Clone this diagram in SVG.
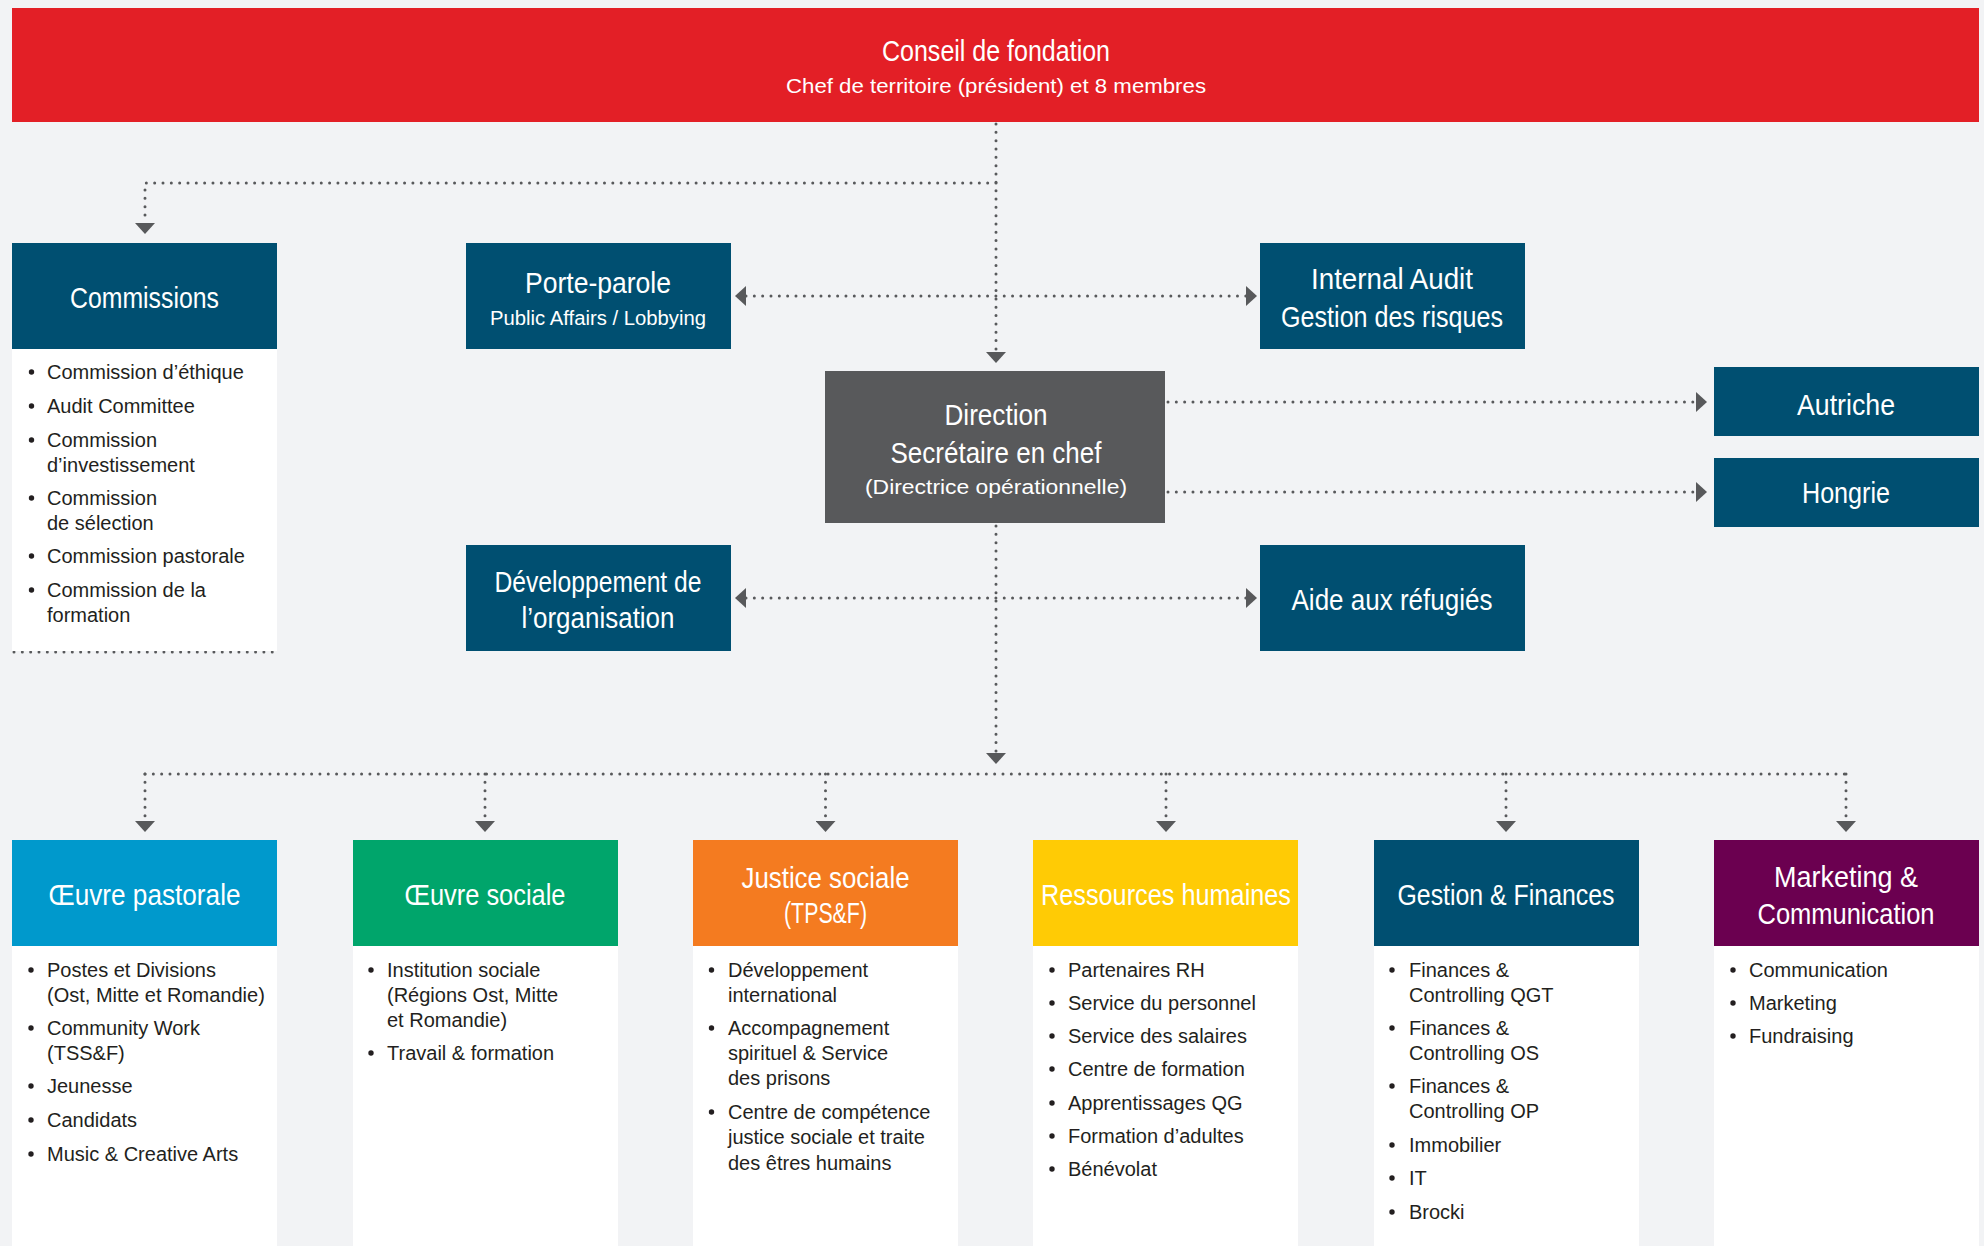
<svg xmlns="http://www.w3.org/2000/svg" width="1984" height="1246" viewBox="0 0 1984 1246">
<style>
.bg{fill:#f2f3f5}
.navy{fill:#004f71}
.list{fill:#ffffff}
.h{font-family:"Liberation Sans",Arial,sans-serif;fill:#ffffff;text-anchor:middle;font-size:30px}
.s{font-family:"Liberation Sans",Arial,sans-serif;fill:#ffffff;text-anchor:middle;font-size:20px}
.b{font-family:"Liberation Sans",Arial,sans-serif;fill:#231f20;font-size:20px}
.dot{fill:#231f20}
.c{fill:none;stroke:#58595b;stroke-width:3;stroke-linecap:round;stroke-dasharray:0 8.33}
.ca{marker-end:url(#arr)}
.cb{marker-start:url(#arr);marker-end:url(#arr)}
</style>
<defs>
<marker id="arr" viewBox="0 -10 11 20" refX="0" refY="0" markerWidth="11" markerHeight="20" markerUnits="userSpaceOnUse" orient="auto-start-reverse">
<path d="M0,-10 L11,0 L0,10 Z" fill="#58595b"/>
</marker>
</defs>
<rect class="bg" x="0" y="0" width="1984" height="1246"/>

<g id="connectors">
<path class="c ca" d="M996,124 V352"/>
<path class="c ca" d="M996,183 H145 V223"/>
<path class="c cb" d="M746,296 H1246"/>
<path class="c cb" d="M746,598 H1246"/>
<path class="c ca" d="M1168,402 H1696"/>
<path class="c ca" d="M1168,492 H1696"/>
<path class="c ca" d="M996,526 V753"/>
<path class="c" d="M145,774 H1846"/>
<path class="c ca" d="M145,774 V821"/>
<path class="c ca" d="M485,774 V821"/>
<path class="c ca" d="M825.5,774 V821"/>
<path class="c ca" d="M1166,774 V821"/>
<path class="c ca" d="M1506,774 V821"/>
<path class="c ca" d="M1846,774 V821"/>
<path class="c" d="M14,652 H279"/>
</g>

<g id="conseil">
<rect x="12" y="8" width="1967" height="114" fill="#e31f26"/>
<text class="h" x="996" y="61" font-size="33" textLength="228" lengthAdjust="spacingAndGlyphs">Conseil de fondation</text>
<text class="s" x="996" y="93" font-size="21" textLength="420" lengthAdjust="spacingAndGlyphs">Chef de territoire (président) et 8 membres</text>
</g>

<g id="commissions">
<rect class="navy" x="12" y="243" width="265" height="106"/>
<text class="h" x="144.5" y="308" textLength="149" lengthAdjust="spacingAndGlyphs">Commissions</text>
<rect class="list" x="12" y="349" width="265" height="302"/>
<circle class="dot" cx="31.5" cy="372" r="2.7"/><text class="b" x="47" y="379">Commission d’éthique</text>
<circle class="dot" cx="31.5" cy="406" r="2.7"/><text class="b" x="47" y="413">Audit Committee</text>
<circle class="dot" cx="31.5" cy="440" r="2.7"/><text class="b" x="47" y="447">Commission</text>
<text class="b" x="47" y="472">d’investissement</text>
<circle class="dot" cx="31.5" cy="498" r="2.7"/><text class="b" x="47" y="505">Commission</text>
<text class="b" x="47" y="530">de sélection</text>
<circle class="dot" cx="31.5" cy="556" r="2.7"/><text class="b" x="47" y="563">Commission pastorale</text>
<circle class="dot" cx="31.5" cy="590" r="2.7"/><text class="b" x="47" y="597">Commission de la</text>
<text class="b" x="47" y="622">formation</text>
</g>

<g id="porte-parole">
<rect class="navy" x="466" y="243" width="265" height="106"/>
<text class="h" x="598" y="293" font-size="31" textLength="146" lengthAdjust="spacingAndGlyphs">Porte-parole</text>
<text class="s" x="598" y="325" textLength="216" lengthAdjust="spacingAndGlyphs">Public Affairs / Lobbying</text>
</g>

<g id="internal-audit">
<rect class="navy" x="1260" y="243" width="265" height="106"/>
<text class="h" x="1392" y="289" textLength="162" lengthAdjust="spacingAndGlyphs">Internal Audit</text>
<text class="h" x="1392" y="327" textLength="222" lengthAdjust="spacingAndGlyphs">Gestion des risques</text>
</g>

<g id="direction">
<rect x="825" y="371" width="340" height="152" fill="#58595b"/>
<text class="h" x="996" y="425" textLength="103" lengthAdjust="spacingAndGlyphs">Direction</text>
<text class="h" x="996" y="463" textLength="211" lengthAdjust="spacingAndGlyphs">Secrétaire en chef</text>
<text class="s" x="996" y="494" font-size="21" textLength="262" lengthAdjust="spacingAndGlyphs">(Directrice opérationnelle)</text>
</g>

<g id="autriche">
<rect class="navy" x="1714" y="367" width="265" height="69"/>
<text class="h" x="1846" y="415" textLength="98" lengthAdjust="spacingAndGlyphs">Autriche</text>
</g>

<g id="hongrie">
<rect class="navy" x="1714" y="458" width="265" height="69"/>
<text class="h" x="1846" y="503" textLength="88" lengthAdjust="spacingAndGlyphs">Hongrie</text>
</g>

<g id="developpement">
<rect class="navy" x="466" y="545" width="265" height="106"/>
<text class="h" x="598" y="592" font-size="31" textLength="207" lengthAdjust="spacingAndGlyphs">Développement de</text>
<text class="h" x="598" y="628" font-size="31" textLength="153" lengthAdjust="spacingAndGlyphs">l’organisation</text>
</g>

<g id="aide-refugies">
<rect class="navy" x="1260" y="545" width="265" height="106"/>
<text class="h" x="1392" y="610" textLength="201" lengthAdjust="spacingAndGlyphs">Aide aux réfugiés</text>
</g>

<g id="oeuvre-pastorale">
<rect x="12" y="840" width="265" height="106" fill="#0099cc"/>
<text class="h" x="144.5" y="905" textLength="192" lengthAdjust="spacingAndGlyphs">Œuvre pastorale</text>
<rect class="list" x="12" y="946" width="265" height="300"/>
<circle class="dot" cx="31" cy="970" r="2.7"/><text class="b" x="47" y="977">Postes et Divisions</text>
<text class="b" x="47" y="1002">(Ost, Mitte et Romandie)</text>
<circle class="dot" cx="31" cy="1028" r="2.7"/><text class="b" x="47" y="1035">Community Work</text>
<text class="b" x="47" y="1060">(TSS&amp;F)</text>
<circle class="dot" cx="31" cy="1086" r="2.7"/><text class="b" x="47" y="1093">Jeunesse</text>
<circle class="dot" cx="31" cy="1120" r="2.7"/><text class="b" x="47" y="1127">Candidats</text>
<circle class="dot" cx="31" cy="1154" r="2.7"/><text class="b" x="47" y="1161">Music &amp; Creative Arts</text>
</g>

<g id="oeuvre-sociale">
<rect x="353" y="840" width="265" height="106" fill="#00a56b"/>
<text class="h" x="485" y="905" textLength="161" lengthAdjust="spacingAndGlyphs">Œuvre sociale</text>
<rect class="list" x="353" y="946" width="265" height="300"/>
<circle class="dot" cx="371" cy="970" r="2.7"/><text class="b" x="387" y="977">Institution sociale</text>
<text class="b" x="387" y="1002">(Régions Ost, Mitte</text>
<text class="b" x="387" y="1027">et Romandie)</text>
<circle class="dot" cx="371" cy="1053" r="2.7"/><text class="b" x="387" y="1060">Travail &amp; formation</text>
</g>

<g id="justice-sociale">
<rect x="693" y="840" width="265" height="106" fill="#f47b20"/>
<text class="h" x="825.5" y="888" textLength="168" lengthAdjust="spacingAndGlyphs">Justice sociale</text>
<text class="h" x="825.5" y="923" font-size="27" textLength="83" lengthAdjust="spacingAndGlyphs">(TPS&amp;F)</text>
<rect class="list" x="693" y="946" width="265" height="300"/>
<circle class="dot" cx="711.5" cy="970" r="2.7"/><text class="b" x="728" y="977">Développement</text>
<text class="b" x="728" y="1002">international</text>
<circle class="dot" cx="711.5" cy="1028" r="2.7"/><text class="b" x="728" y="1035">Accompagnement</text>
<text class="b" x="728" y="1060">spirituel &amp; Service</text>
<text class="b" x="728" y="1085">des prisons</text>
<circle class="dot" cx="711.5" cy="1112" r="2.7"/><text class="b" x="728" y="1119">Centre de compétence</text>
<text class="b" x="728" y="1144">justice sociale et traite</text>
<text class="b" x="728" y="1170">des êtres humains</text>
</g>

<g id="ressources-humaines">
<rect x="1033" y="840" width="265" height="106" fill="#ffcb05"/>
<text class="h" x="1166" y="905" textLength="250" lengthAdjust="spacingAndGlyphs">Ressources humaines</text>
<rect class="list" x="1033" y="946" width="265" height="300"/>
<circle class="dot" cx="1052" cy="970" r="2.7"/><text class="b" x="1068" y="977">Partenaires RH</text>
<circle class="dot" cx="1052" cy="1003" r="2.7"/><text class="b" x="1068" y="1010">Service du personnel</text>
<circle class="dot" cx="1052" cy="1036" r="2.7"/><text class="b" x="1068" y="1043">Service des salaires</text>
<circle class="dot" cx="1052" cy="1069" r="2.7"/><text class="b" x="1068" y="1076">Centre de formation</text>
<circle class="dot" cx="1052" cy="1103" r="2.7"/><text class="b" x="1068" y="1110">Apprentissages QG</text>
<circle class="dot" cx="1052" cy="1136" r="2.7"/><text class="b" x="1068" y="1143">Formation d’adultes</text>
<circle class="dot" cx="1052" cy="1169" r="2.7"/><text class="b" x="1068" y="1176">Bénévolat</text>
</g>

<g id="gestion-finances">
<rect class="navy" x="1374" y="840" width="265" height="106"/>
<text class="h" x="1506" y="905" textLength="217" lengthAdjust="spacingAndGlyphs">Gestion &amp; Finances</text>
<rect class="list" x="1374" y="946" width="265" height="300"/>
<circle class="dot" cx="1392" cy="970" r="2.7"/><text class="b" x="1409" y="977">Finances &amp;</text>
<text class="b" x="1409" y="1002">Controlling QGT</text>
<circle class="dot" cx="1392" cy="1028" r="2.7"/><text class="b" x="1409" y="1035">Finances &amp;</text>
<text class="b" x="1409" y="1060">Controlling OS</text>
<circle class="dot" cx="1392" cy="1086" r="2.7"/><text class="b" x="1409" y="1093">Finances &amp;</text>
<text class="b" x="1409" y="1118">Controlling OP</text>
<circle class="dot" cx="1392" cy="1145" r="2.7"/><text class="b" x="1409" y="1152">Immobilier</text>
<circle class="dot" cx="1392" cy="1178" r="2.7"/><text class="b" x="1409" y="1185">IT</text>
<circle class="dot" cx="1392" cy="1212" r="2.7"/><text class="b" x="1409" y="1219">Brocki</text>
</g>

<g id="marketing-communication">
<rect x="1714" y="840" width="265" height="106" fill="#6b0050"/>
<text class="h" x="1846" y="887" textLength="144" lengthAdjust="spacingAndGlyphs">Marketing &amp;</text>
<text class="h" x="1846" y="924" textLength="177" lengthAdjust="spacingAndGlyphs">Communication</text>
<rect class="list" x="1714" y="946" width="265" height="300"/>
<circle class="dot" cx="1733" cy="970" r="2.7"/><text class="b" x="1749" y="977">Communication</text>
<circle class="dot" cx="1733" cy="1003" r="2.7"/><text class="b" x="1749" y="1010">Marketing</text>
<circle class="dot" cx="1733" cy="1036" r="2.7"/><text class="b" x="1749" y="1043">Fundraising</text>
</g>
</svg>
